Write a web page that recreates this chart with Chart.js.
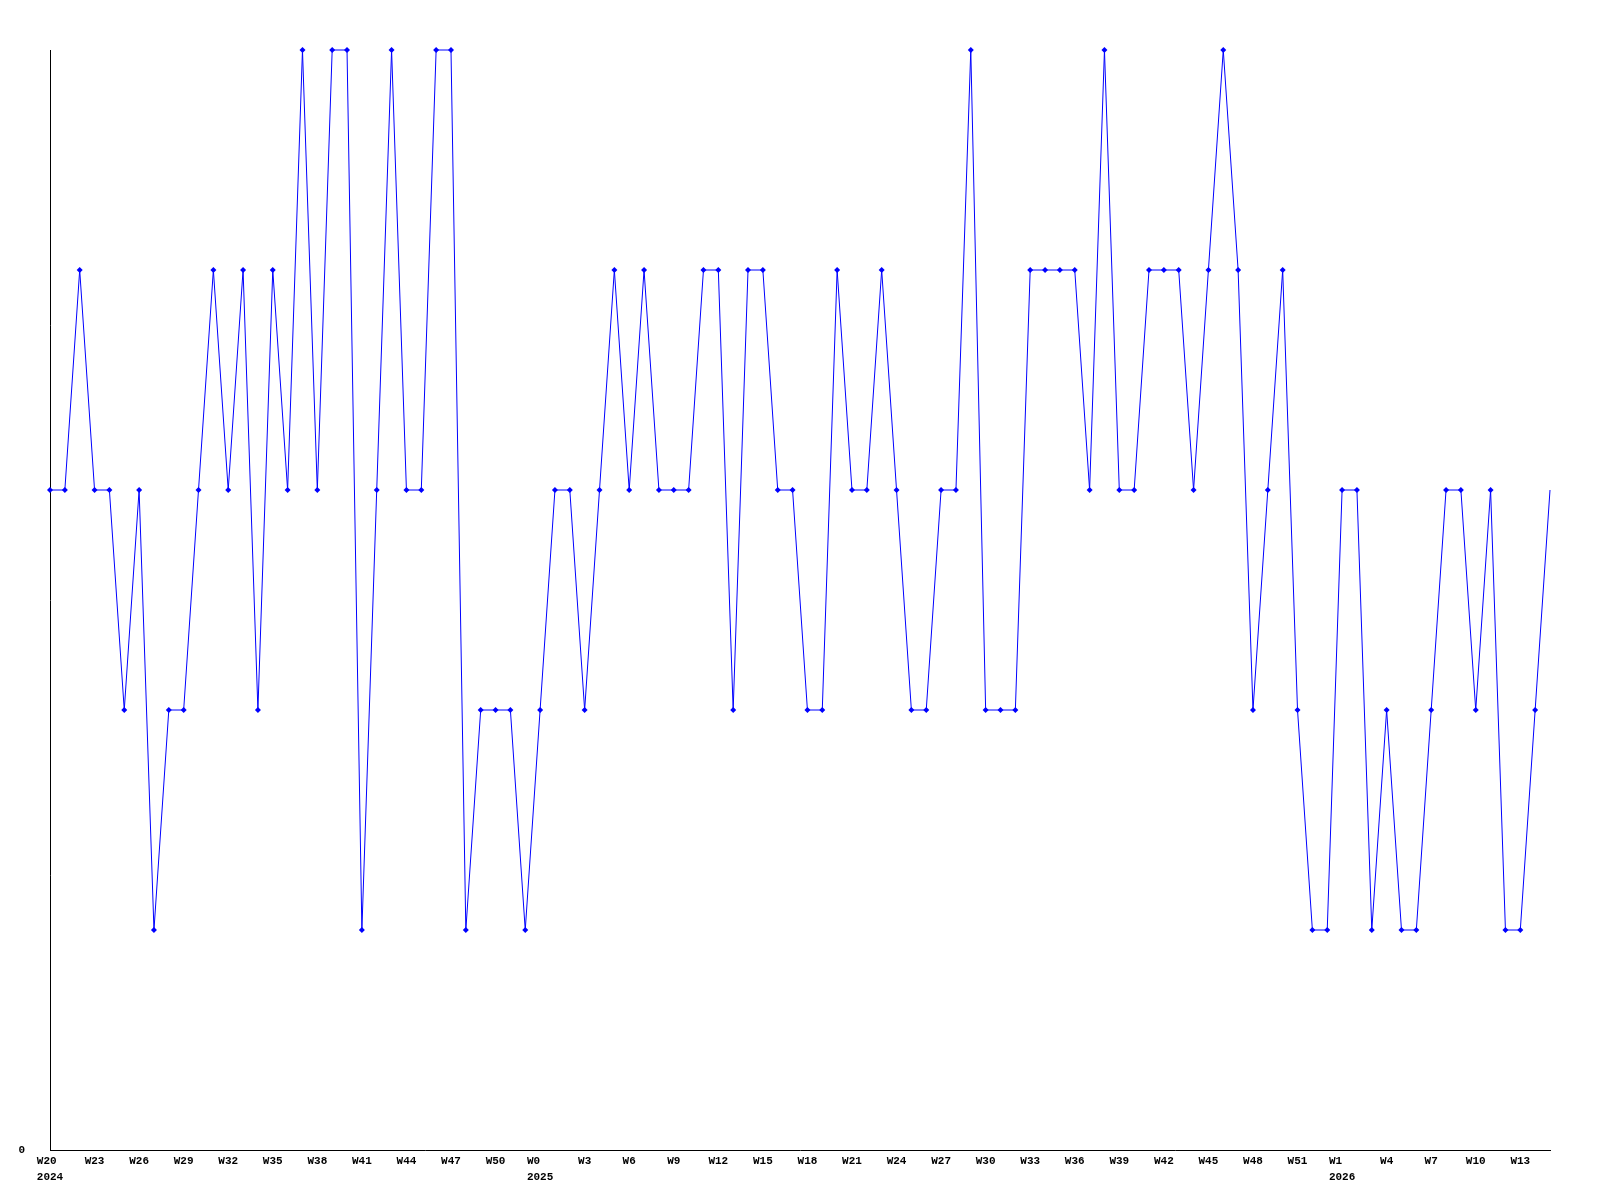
<!DOCTYPE html>
<html>
<head>
<meta charset="utf-8">
<script src="https://cdn.jsdelivr.net/npm/chart.js@4/dist/chart.umd.min.js"></script>
<style>
  html, body { margin: 0; padding: 0; background: #fff; }
  #wrap { width: 1600px; height: 1200px; }
</style>
</head>
<body>
<div id="wrap"><canvas id="weekChart" width="1600" height="1200"></canvas></div>
<script>
// --- data ---
const weeks2024 = ['W20','W21','W22','W23','W24','W25','W26','W27','W28','W29','W30','W31','W32','W33','W34','W35','W36',
    'W37','W38','W39','W40','W41','W42','W43','W44','W45','W46','W47','W48','W49','W50','W51','W52'];
const weeks2025 = ['W0','W1','W2','W3','W4','W5','W6','W7','W8','W9','W10','W11','W12','W13','W14','W15','W16','W17',
    'W18','W19','W20','W21','W22','W23','W24','W25','W26','W27','W28','W29','W30','W31','W32','W33','W34','W35',
    'W36','W37','W38','W39','W40','W41','W42','W43','W44','W45','W46','W47','W48','W49','W50','W51','W52'];
const weeks2026 = ['W0','W1','W2','W3','W4','W5','W6','W7','W8','W9','W10','W11','W12','W13','W14','W15'];

// year written under the first labelled week of each year
const yearMarks = [
    { index: 0, year: '2024' },
    { index: 33, year: '2025' },
    { index: 87, year: '2026' }
];

const counts = [
    3, 3, 4, 3, 3, 2, 3, 1, 2, 2,
    3, 4, 3, 4, 2, 4, 3, 5, 3, 5,
    5, 1, 3, 5, 3, 3, 5, 5, 1, 2,
    2, 2, 1, 2, 3, 3, 2, 3, 4, 3,
    4, 3, 3, 3, 4, 4, 2, 4, 4, 3,
    3, 2, 2, 4, 3, 3, 4, 3, 2, 2,
    3, 3, 5, 2, 2, 2, 4, 4, 4, 4,
    3, 5, 3, 3, 4, 4, 4, 3, 4, 5,
    4, 2, 3, 4, 2, 1, 1, 3, 3, 1,
    2, 1, 1, 2, 3, 3, 2, 3, 1, 1,
    2, 3
];

const labels = weeks2024.concat(weeks2025, weeks2026);
const tickFont = { family: '"Liberation Mono", "DejaVu Sans Mono", monospace', size: 11, weight: 'bold', lineHeight: 1.4 };

document.addEventListener("DOMContentLoaded", function() {
    renderChart();
});

function renderChart() {
    const ctx = document.getElementById('weekChart').getContext('2d');
    new Chart(ctx, {
        type: 'line',
        data: {
            labels: labels,
            datasets: [{
                data: counts,
                borderColor: '#0000ff', borderWidth: 1,
                backgroundColor: '#0000ff',
                pointStyle: 'rectRot', pointBorderWidth: 0,
                pointRadius: (c) => c.dataIndex === counts.length - 1 ? 0 : 3,
                tension: 0, fill: false, clip: false
            }]
        },
        options: {
            responsive: false,
            animation: false,
            events: [],
            layout: { padding: { top: 50, right: 50, bottom: 0, left: 0 } },
            plugins: { legend: { display: false }, tooltip: { enabled: false } },
            scales: {
                x: {
                    offset: false,
                    grid: { drawOnChartArea: false, drawTicks: false },
                    border: { display: true, color: '#000', width: 1 },
                    ticks: {
                        autoSkip: false, maxRotation: 0, minRotation: 0, padding: 4,
                        color: '#000', font: tickFont,
                        callback: function(val, i) {
                            if (i % 3 !== 0) return '';
                            const mark = yearMarks.find(m => m.index === i);
                            // week and year start at the same x in the reference
                            return mark ? [labels[i].padEnd(mark.year.length, ' '), mark.year] : labels[i];
                        }
                    },
                    afterFit: function(scale) { scale.height = 50; }
                },
                y: {
                    min: 0, max: 5,
                    grid: { drawOnChartArea: false, drawTicks: false },
                    border: { display: true, color: '#000', width: 1 },
                    ticks: { padding: 25, color: '#000', font: tickFont },
                    afterBuildTicks: function(scale) { scale.ticks = [{ value: 0 }]; },
                    afterFit: function(scale) { scale.width = 50; }
                }
            }
        }
    });
}
</script>
</body>
</html>
